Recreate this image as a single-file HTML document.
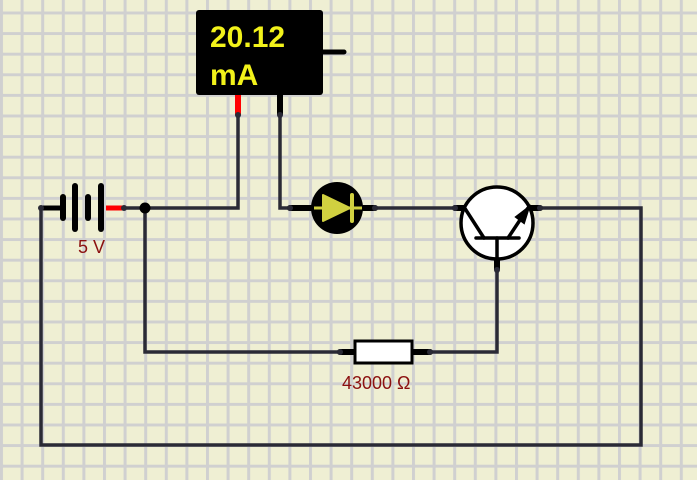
<!DOCTYPE html>
<html><head><style>html,body{margin:0;padding:0;background:#efefd3;}svg{display:block}</style></head>
<body>
<svg width="697" height="480" viewBox="0 0 697 480" xmlns="http://www.w3.org/2000/svg">
<defs>
<pattern id="g" x="0" y="11.5" width="20.6" height="20.6" patternUnits="userSpaceOnUse">
<path d="M1.5 0V20.6M0 1.5H20.6" stroke="#d0d0d0" stroke-width="3" fill="none"/>
</pattern>
</defs>
<rect width="697" height="480" fill="#efefd3"/>
<rect width="697" height="480" fill="url(#g)"/>
<g stroke="#2a2a35" stroke-width="3.5" fill="none" stroke-linejoin="miter">
<path d="M238 115V208H124"/>
<path d="M280 115V208H290"/>
<path d="M375 208H455"/>
<path d="M537 208H641V445H41V208"/>
<path d="M145 208V352H340"/>
<path d="M430 352H497V270"/>
</g>
<!-- ammeter -->
<rect x="196" y="10" width="127" height="85" rx="3" fill="#000"/>
<text x="210" y="47" font-family="Liberation Sans, sans-serif" font-weight="bold" font-size="30" fill="#f2f21a">20.12</text>
<text x="210" y="85" font-family="Liberation Sans, sans-serif" font-weight="bold" font-size="30" fill="#f2f21a">mA</text>
<line x1="322" y1="52" x2="344" y2="52" stroke="#000" stroke-width="5" stroke-linecap="round"/>
<line x1="238" y1="95" x2="238" y2="115" stroke="#f00" stroke-width="6"/>
<line x1="280" y1="95" x2="280" y2="115" stroke="#000" stroke-width="6"/>
<circle cx="238" cy="115" r="3" fill="#2a2a35"/><circle cx="280" cy="115" r="3" fill="#2a2a35"/>
<!-- battery -->
<line x1="41" y1="208" x2="62" y2="208" stroke="#000" stroke-width="5" stroke-linecap="round"/>
<line x1="106" y1="208" x2="126" y2="208" stroke="#f00" stroke-width="5"/>
<g stroke="#000" stroke-width="6" stroke-linecap="round">
<line x1="63" y1="197" x2="63" y2="218"/>
<line x1="75" y1="186" x2="75" y2="229"/>
<line x1="88" y1="197" x2="88" y2="218"/>
<line x1="101" y1="186" x2="101" y2="229"/>
</g>
<circle cx="41" cy="208" r="3" fill="#2a2a35"/>
<circle cx="124" cy="208" r="3" fill="#2a2a35"/>
<circle cx="145" cy="208" r="5.5" fill="#000"/>
<text x="78" y="253" font-family="Liberation Sans, sans-serif" font-size="18" fill="#8b1010">5 V</text>
<!-- diode -->
<line x1="290" y1="208" x2="375" y2="208" stroke="#000" stroke-width="6" stroke-linecap="round"/>
<circle cx="337" cy="208" r="26" fill="#000"/>
<path d="M323 195L323 221L350 208Z" fill="#d0d040" stroke="#d0d040" stroke-width="2" stroke-linejoin="round"/>
<line x1="352" y1="195" x2="352" y2="221" stroke="#d0d040" stroke-width="4" stroke-linecap="round"/>
<line x1="314" y1="208" x2="362" y2="208" stroke="#d0d040" stroke-width="3"/>
<circle cx="290" cy="208" r="3" fill="#2a2a35"/><circle cx="375" cy="208" r="3" fill="#2a2a35"/>
<!-- transistor -->
<line x1="455" y1="208" x2="540" y2="208" stroke="#000" stroke-width="6" stroke-linecap="round"/>
<circle cx="497" cy="223" r="36" fill="#fff" stroke="#000" stroke-width="3.5"/>
<line x1="497" y1="258" x2="497" y2="270" stroke="#000" stroke-width="6"/>
<g stroke="#000" stroke-width="3.5" stroke-linecap="round">
<line x1="464" y1="207" x2="484" y2="238"/>
<line x1="476" y1="238" x2="519" y2="238"/>
<line x1="497" y1="238" x2="497" y2="262"/>
<line x1="508" y1="238" x2="528" y2="208"/>
</g>
<path d="M529 207L516 217L524 223Z" fill="#000" stroke="#000" stroke-width="2"/>
<circle cx="455" cy="208" r="3" fill="#2a2a35"/><circle cx="540" cy="208" r="3" fill="#2a2a35"/><circle cx="497" cy="270" r="3" fill="#2a2a35"/>
<!-- resistor -->
<line x1="340" y1="352" x2="430" y2="352" stroke="#000" stroke-width="6" stroke-linecap="round"/>
<rect x="355" y="341" width="57" height="22" fill="#fff" stroke="#000" stroke-width="3"/>
<circle cx="340" cy="352" r="3" fill="#2a2a35"/><circle cx="430" cy="352" r="3" fill="#2a2a35"/>
<text x="342" y="389" font-family="Liberation Sans, sans-serif" font-size="18" fill="#8b1010">43000 Ω</text>
</svg>
</body></html>
